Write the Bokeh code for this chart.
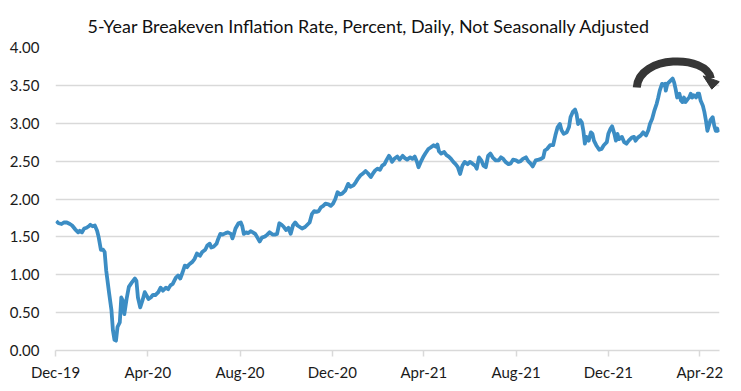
from datetime import datetime, timedelta

from bokeh.plotting import figure
from bokeh.models import (Range1d, FixedTicker, DatetimeTickFormatter,
                          PrintfTickFormatter, ColumnDataSource)
from bokeh.embed import file_html
from bokeh.resources import INLINE

# ---------------- data ----------------
start = datetime(2019, 12, 1)

# days since 2019-12-01
day_offsets = [
    1, 4, 8, 11, 15, 19, 22, 26, 30, 32, 35, 38, 41, 44, 46, 49, 52, 55, 57, 60,
    63, 65, 67, 71, 74, 76, 78, 80, 82, 85, 87, 89, 91, 94, 97, 101, 105, 107, 109, 112,
    115, 118, 123, 126, 129, 132, 136, 139, 142, 146, 149, 152, 155, 159, 162, 165, 168, 171, 174, 177,
    181, 184, 187, 191, 194, 198, 201, 204, 206, 209, 213, 215, 218, 221, 225, 228, 232, 234, 236, 238,
    242, 245, 247, 249, 252, 255, 258, 261, 264, 267, 270, 273, 277, 280, 283, 287, 290, 293, 296, 299,
    302, 305, 308, 311, 314, 317, 320, 323, 326, 330, 333, 336, 339, 342, 345, 348, 351, 354, 357, 361,
    364, 367, 370, 373, 376, 379, 383, 387, 390, 394, 397, 400, 403, 407, 410, 413, 417, 420, 423, 426,
    429, 432, 435, 438, 441, 443, 445, 448, 452, 455, 459, 462, 465, 469, 472, 475, 478, 480, 483, 486,
    489, 493, 496, 500, 503, 505, 507, 510, 514, 517, 520, 523, 526, 529, 532, 535, 538, 541, 545, 548,
    551, 555, 557, 560, 563, 566, 569, 572, 575, 578, 582, 586, 589, 592, 595, 599, 602, 605, 609, 612,
    615, 618, 622, 625, 628, 631, 635, 639, 642, 645, 647, 650, 654, 658, 661, 664, 667, 669, 672, 676,
    679, 681, 684, 687, 689, 691, 694, 696, 698, 700, 702, 705, 708, 710, 712, 715, 719, 722, 725, 729,
    731, 734, 736, 739, 741, 743, 745, 749, 752, 755, 758, 762, 765, 767, 770, 774, 777, 781, 784, 786,
    789, 792, 795, 797, 799, 802, 803, 806, 807, 809, 811, 814, 816, 818, 820, 822, 825, 827, 829, 831,
    833, 836, 838, 840, 842, 844, 847, 849, 851, 853, 856, 858, 860, 862, 864, 866, 869, 871, 873, 875,
    877,
]

# 5-year breakeven inflation rate, percent
rate = [
    1.71, 1.68, 1.67, 1.69, 1.69, 1.67, 1.65, 1.60, 1.56, 1.58, 1.56, 1.61, 1.62, 1.64, 1.66, 1.64, 1.65, 1.58, 1.50, 1.33,
    1.33, 1.30, 1.06, 0.75, 0.53, 0.26, 0.14, 0.13, 0.31, 0.37, 0.70, 0.66, 0.48, 0.68, 0.84, 0.90, 0.95, 0.92, 0.70, 0.57,
    0.66, 0.77, 0.68, 0.70, 0.735, 0.73, 0.77, 0.83, 0.79, 0.83, 0.81, 0.86, 0.88, 0.96, 0.99, 0.95, 1.03, 1.12, 1.10, 1.14,
    1.17, 1.21, 1.28, 1.25, 1.30, 1.33, 1.39, 1.41, 1.36, 1.37, 1.41, 1.47, 1.54, 1.53, 1.55, 1.56, 1.54, 1.48, 1.54, 1.61,
    1.68, 1.69, 1.64, 1.54, 1.56, 1.55, 1.575, 1.56, 1.54, 1.49, 1.44, 1.49, 1.505, 1.53, 1.56, 1.53, 1.53, 1.54, 1.68, 1.66,
    1.63, 1.59, 1.62, 1.54, 1.65, 1.69, 1.65, 1.63, 1.61, 1.63, 1.66, 1.69, 1.80, 1.84, 1.83, 1.84, 1.89, 1.91, 1.94, 1.93,
    1.91, 1.94, 2.00, 2.09, 2.06, 2.07, 2.11, 2.20, 2.16, 2.18, 2.22, 2.27, 2.31, 2.34, 2.37, 2.34, 2.29, 2.34, 2.38, 2.40,
    2.385, 2.44, 2.46, 2.52, 2.57, 2.54, 2.49, 2.53, 2.56, 2.52, 2.57, 2.54, 2.52, 2.55, 2.53, 2.56, 2.49, 2.42, 2.49, 2.55,
    2.60, 2.66, 2.68, 2.71, 2.69, 2.72, 2.63, 2.60, 2.62, 2.58, 2.56, 2.53, 2.49, 2.46, 2.42, 2.33, 2.44, 2.49, 2.46, 2.49,
    2.47, 2.44, 2.40, 2.55, 2.51, 2.44, 2.42, 2.57, 2.60, 2.55, 2.51, 2.51, 2.55, 2.53, 2.49, 2.46, 2.47, 2.52, 2.51, 2.49,
    2.50, 2.53, 2.55, 2.50, 2.47, 2.43, 2.51, 2.52, 2.53, 2.55, 2.64, 2.66, 2.71, 2.71, 2.84, 2.95, 2.99, 2.91, 2.86, 2.88,
    2.95, 3.08, 3.15, 3.18, 3.12, 2.99, 3.04, 3.01, 2.90, 2.73, 2.82, 2.77, 2.88, 2.86, 2.77, 2.71, 2.65, 2.66, 2.71, 2.75,
    2.86, 2.93, 2.96, 2.86, 2.77, 2.86, 2.79, 2.82, 2.75, 2.73, 2.77, 2.81, 2.82, 2.77, 2.81, 2.84, 2.88, 2.84, 2.91, 2.99,
    3.06, 3.17, 3.26, 3.34, 3.43, 3.52, 3.50, 3.52, 3.43, 3.52, 3.54, 3.57, 3.59, 3.54, 3.45, 3.34, 3.39, 3.30, 3.28, 3.34,
    3.28, 3.32, 3.34, 3.39, 3.34, 3.37, 3.34, 3.39, 3.39, 3.30, 3.23, 3.15, 3.04, 2.90, 2.97, 3.04, 3.08, 2.97, 2.90, 2.93,
    2.88,
]

x_tick_dates = [datetime(2019, 12, 1), datetime(2020, 4, 1), datetime(2020, 8, 1),
                datetime(2020, 12, 1), datetime(2021, 4, 1), datetime(2021, 8, 1),
                datetime(2021, 12, 1), datetime(2022, 4, 1)]
y_ticks = [0.0, 0.5, 1.0, 1.5, 2.0, 2.5, 3.0, 3.5, 4.0]

title_text = "5-Year Breakeven Inflation Rate, Percent, Daily, Not Seasonally Adjusted"

# curved-arrow annotation (days since start, percent)
arrow_start = (768.6, 3.472)
arrow_ctrl0 = (771.2, 3.908)
arrow_ctrl1 = (861.2, 3.908)
arrow_end = (866.5, 3.591)
arrow_head = [(856.5, 3.625), (878.0, 3.548), (867.8, 3.450)]

# ---------------- plot ----------------
def d(days):
    return start + timedelta(days=days)

def ms(dt):
    return (dt - datetime(1970, 1, 1)).total_seconds() * 1000.0

dates = [d(x) for x in day_offsets]
src = ColumnDataSource(dict(date=dates, rate=rate))

FONT = "Lato"

p = figure(width=733, height=383, x_axis_type="datetime",
           x_range=Range1d(d(0), d(878)), y_range=Range1d(0, 4),
           output_backend="svg", toolbar_location=None,
           min_border_left=55, min_border_right=14,
           min_border_top=47, min_border_bottom=33)

p.title.text = title_text
p.title.align = "left"
p.title.offset = 32
p.title.standoff = 22
p.title.text_font = FONT
p.title.text_font_size = "17.9px"
p.title.text_font_style = "normal"
p.title.text_color = "#111111"

p.outline_line_color = None
p.background_fill_color = "white"
p.border_fill_color = "white"

# y axis
p.yaxis.ticker = FixedTicker(ticks=y_ticks)
p.yaxis.formatter = PrintfTickFormatter(format="%.2f")
p.yaxis.axis_line_color = None
p.yaxis.major_tick_line_color = None
p.yaxis.minor_tick_line_color = None
p.yaxis.major_tick_in = 0
p.yaxis.major_tick_out = 0
p.yaxis.major_label_standoff = 16
p.yaxis.major_label_text_font = FONT
p.yaxis.major_label_text_font_size = "15px"
p.yaxis.major_label_text_color = "#1a1a1a"

# x axis
p.xaxis.ticker = FixedTicker(ticks=[ms(t) for t in x_tick_dates])
fmt = "%b-%y"
p.xaxis.formatter = DatetimeTickFormatter(milliseconds=fmt, seconds=fmt, minsec=fmt,
                                          minutes=fmt, hourmin=fmt, hours=fmt,
                                          days=fmt, months=fmt, years=fmt)
p.xaxis.axis_line_color = "#D9D9D9"
p.xaxis.axis_line_width = 1.5
p.xaxis.major_tick_line_color = "#D9D9D9"
p.xaxis.major_tick_line_width = 1.5
p.xaxis.minor_tick_line_color = None
p.xaxis.major_tick_in = 0
p.xaxis.major_tick_out = 6
p.xaxis.major_label_standoff = 6
p.xaxis.major_label_text_font = FONT
p.xaxis.major_label_text_font_size = "15px"
p.xaxis.major_label_text_color = "#1a1a1a"

# grid
p.xgrid.visible = False
p.ygrid.ticker = FixedTicker(ticks=y_ticks)
p.ygrid.grid_line_color = "#D9D9D9"
p.ygrid.grid_line_width = 1.5

# series
p.line(x="date", y="rate", source=src, line_color="#3C8DC4",
       line_width=3.8, line_join="round")

# curved arrow
p.bezier(x0=[d(arrow_start[0])], y0=[arrow_start[1]],
         x1=[d(arrow_end[0])], y1=[arrow_end[1]],
         cx0=[d(arrow_ctrl0[0])], cy0=[arrow_ctrl0[1]],
         cx1=[d(arrow_ctrl1[0])], cy1=[arrow_ctrl1[1]],
         line_color="#363636", line_width=8)
p.patch(x=[d(a) for a, _ in arrow_head], y=[b for _, b in arrow_head],
        fill_color="#363636", line_color="#363636", line_width=1)

open("out.html", "w").write(file_html(p, INLINE))
